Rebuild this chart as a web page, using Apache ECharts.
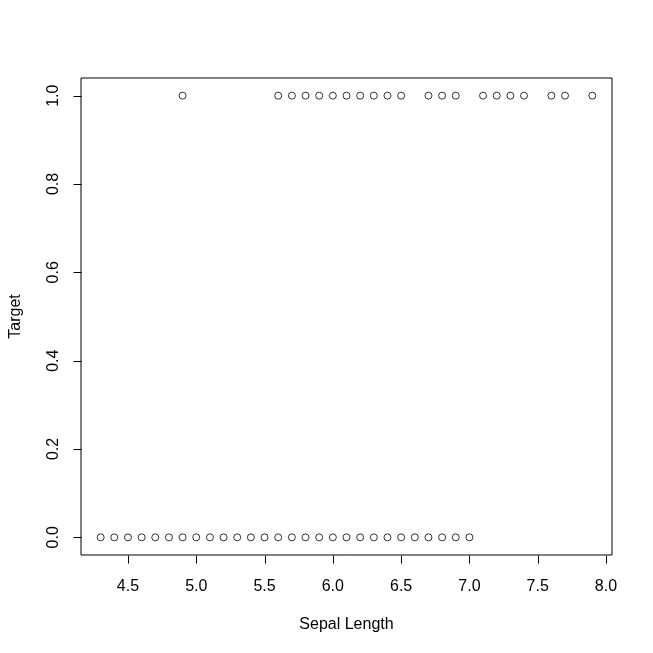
<!DOCTYPE html>
<html>
<head>
<meta charset="utf-8">
<script src="https://cdn.jsdelivr.net/npm/echarts@6/dist/echarts.min.js"></script>
<style>html,body{margin:0;padding:0;background:#fff}#c{width:653px;height:653px}</style>
</head>
<body>
<div id="c"></div>
<script>
// Sepal length values where Target == 1
const sepalTarget1 = [4.9, 5.6, 5.7, 5.8, 5.9, 6.0, 6.1, 6.2, 6.3, 6.4, 6.5, 6.7, 6.8, 6.9, 7.1, 7.2, 7.3, 7.4, 7.6, 7.7, 7.9];
// Sepal length values where Target == 0
const sepalTarget0 = [4.3, 4.4, 4.5, 4.6, 4.7, 4.8, 4.9, 5.0, 5.1, 5.2, 5.3, 5.4, 5.5, 5.6, 5.7, 5.8, 5.9, 6.0, 6.1, 6.2, 6.3, 6.4, 6.5, 6.6, 6.7, 6.8, 6.9, 7.0];
const xTicks = [4.5, 5.0, 5.5, 6.0, 6.5, 7.0, 7.5, 8.0];
const yTicks = [0.0, 0.2, 0.4, 0.6, 0.8, 1.0];

const points = sepalTarget0.map(x => [x, 0]).concat(sepalTarget1.map(x => [x, 1]));
const FONT = '"Liberation Sans", Arial, sans-serif';
const X_MIN = 4.156, X_MAX = 8.044, Y_MIN = -0.04, Y_MAX = 1.04;
const TICK_LEN = 8;

// tick marks drawn through the axes' own scales (api.coord), outside the plot box,
// on their own canvas layer so nothing can paint over them
function tickSeries(data, vertical) {
  return {
    type: 'custom', silent: true, clip: false, zlevel: 2, z: 50,
    data: data,
    renderItem: (params, api) => {
      const p = api.coord([api.value(0), api.value(1)]);
      const x = Math.round(p[0]) + 0.5, y = Math.round(p[1]) + 0.5;
      return {
        type: 'line',
        silent: true,
        shape: vertical ? {x1: x, y1: y, x2: x, y2: y + TICK_LEN} : {x1: x, y1: y, x2: x - TICK_LEN, y2: y},
        style: {stroke: '#000000', lineWidth: 1, opacity: 1}
      };
    }
  };
}

const chart = echarts.init(document.getElementById('c'), null, {renderer: 'canvas'});
chart.setOption({
  backgroundColor: '#ffffff',
  animation: false,
  grid: {left: 78, right: 41, top: 78, bottom: 98, show: true, borderColor: '#000', borderWidth: 1, backgroundColor: 'transparent'},
  xAxis: {
    type: 'value', min: X_MIN, max: X_MAX, position: 'bottom',
    name: 'Sepal Length', nameLocation: 'middle', nameGap: 62,
    nameTextStyle: {color: '#000', fontFamily: FONT, fontSize: 16},
    axisLine: {show: false, onZero: false},
    splitLine: {show: false},
    axisTick: {show: false},
    axisLabel: {color: '#000', fontFamily: FONT, fontSize: 16, margin: 24, customValues: xTicks, formatter: v => v.toFixed(1)}
  },
  yAxis: {
    type: 'value', min: Y_MIN, max: Y_MAX, position: 'left',
    name: 'Target', nameLocation: 'middle', nameGap: 57,
    nameTextStyle: {color: '#000', fontFamily: FONT, fontSize: 16},
    axisLine: {show: false, onZero: false},
    splitLine: {show: false},
    axisTick: {show: false},
    axisLabel: {color: '#000', fontFamily: FONT, fontSize: 16, margin: 19, rotate: 90, customValues: yTicks, formatter: v => v.toFixed(1)}
  },
  series: [
    {
      type: 'scatter',
      data: points,
      symbol: 'circle',
      symbolSize: 7,
      itemStyle: {color: 'rgba(0,0,0,0)', borderColor: '#000', borderWidth: 1}
    },
    tickSeries(xTicks.map(v => [v, Y_MIN]), true),
    tickSeries(yTicks.map(v => [X_MIN, v]), false)
  ]
});
</script>
</body>
</html>
